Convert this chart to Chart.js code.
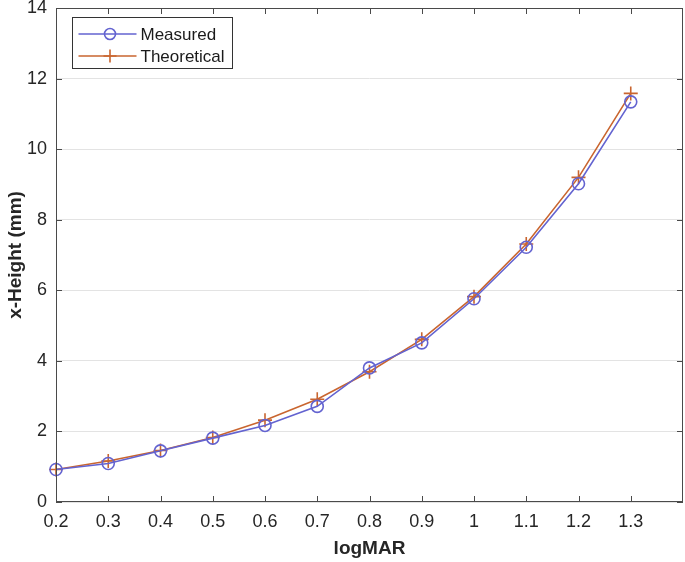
<!DOCTYPE html>
<html>
<head>
<meta charset="utf-8">
<script src="https://cdn.jsdelivr.net/npm/chart.js@4"></script>
<style>
  html, body { margin: 0; padding: 0; background: #fff; }
  #wrap { width: 685px; height: 562px; }
</style>
</head>
<body>
<div id="wrap"><canvas id="chart" width="685" height="562"></canvas></div>
<script>
// data
var logMAR = [0.2, 0.3, 0.4, 0.5, 0.6, 0.7, 0.8, 0.9, 1.0, 1.1, 1.2, 1.3];
var measured = [0.92, 1.09, 1.45, 1.81, 2.17, 2.71, 3.8, 4.51, 5.76, 7.22, 9.02, 11.34];
var theoretical = [0.92, 1.16, 1.46, 1.83, 2.32, 2.91, 3.69, 4.61, 5.82, 7.31, 9.2, 11.58];
var yTicks = [0, 2, 4, 6, 8, 10, 12, 14];

var blue = "#6363d0";
var orange = "#c9652f";
var axisColor = "#4a4a4a";

function pairs(xs, ys) {
    return xs.map(function (x, i) { return { x: x, y: ys[i] }; });
}

// ticks naar binnen + kader + legenda (matlab stijl)
var matlabBox = {
    id: "matlabBox",
    afterDraw: function (chart) {
        var ctx = chart.ctx;
        var a = chart.chartArea;
        var xs = chart.scales.x, ys = chart.scales.y;
        ctx.save();
        ctx.strokeStyle = axisColor;
        ctx.lineWidth = 1;
        ctx.strokeRect(a.left + 0.5, a.top + 0.5, a.right - a.left - 1, a.bottom - a.top - 1);
        ctx.beginPath();
        logMAR.forEach(function (v) {
            var px = Math.round(xs.getPixelForValue(v)) + 0.5;
            ctx.moveTo(px, a.bottom); ctx.lineTo(px, a.bottom - 6);
            ctx.moveTo(px, a.top); ctx.lineTo(px, a.top + 6);
        });
        yTicks.forEach(function (v) {
            var py = Math.round(ys.getPixelForValue(v)) + 0.5;
            ctx.moveTo(a.left, py); ctx.lineTo(a.left + 6, py);
            ctx.moveTo(a.right, py); ctx.lineTo(a.right - 6, py);
        });
        ctx.stroke();

        // legenda
        var lx = 72.5, ly = 17.5, lw = 160, lh = 51;
        ctx.fillStyle = "#fff";
        ctx.fillRect(lx, ly, lw, lh);
        ctx.strokeStyle = "#333";
        ctx.strokeRect(lx, ly, lw, lh);
        ctx.font = "17px 'Liberation Sans', Arial, sans-serif";
        ctx.textBaseline = "middle";
        chart.data.datasets.forEach(function (ds, i) {
            var cy = ly + 16.5 + i * 22;
            ctx.strokeStyle = ds.borderColor;
            ctx.lineWidth = 1.6;
            ctx.beginPath();
            ctx.moveTo(lx + 6, cy); ctx.lineTo(lx + 64, cy);
            ctx.stroke();
            ctx.beginPath();
            if (ds.pointStyle === "circle") {
                ctx.arc(lx + 37.5, cy, 5.5, 0, Math.PI * 2);
            } else {
                ctx.moveTo(lx + 31, cy); ctx.lineTo(lx + 44, cy);
                ctx.moveTo(lx + 37.5, cy - 6.5); ctx.lineTo(lx + 37.5, cy + 6.5);
            }
            ctx.stroke();
            ctx.fillStyle = "#1a1a1a";
            ctx.fillText(ds.label, lx + 68, cy + 1);
        });
        ctx.restore();
    }
};

var ctx = document.getElementById("chart").getContext("2d");
var chart = new Chart(ctx, {
    type: "line",
    data: {
        datasets: [
            {
                label: "Measured",
                data: pairs(logMAR, measured),
                borderColor: blue,
                backgroundColor: "rgba(0,0,0,0)",
                borderWidth: 1.6,
                pointStyle: "circle",
                pointRadius: 6,
                pointBorderWidth: 1.6,
                tension: 0
            },
            {
                label: "Theoretical",
                data: pairs(logMAR, theoretical),
                borderColor: orange,
                backgroundColor: "rgba(0,0,0,0)",
                borderWidth: 1.6,
                pointStyle: "cross",
                pointRadius: 7,
                pointBorderWidth: 1.6,
                tension: 0
            }
        ]
    },
    options: {
        responsive: false,
        animation: false,
        clip: false,
        layout: { autoPadding: false, padding: { top: 8, right: 2, left: 0, bottom: 0 } },
        plugins: { legend: { display: false }, tooltip: { enabled: false } },
        scales: {
            x: {
                type: "linear",
                min: 0.2,
                max: 1.4,
                afterBuildTicks: function (s) {
                    s.ticks = logMAR.map(function (v) { return { value: v }; });
                },
                afterFit: function (s) {
                    s.height = 60;
                    s.paddingLeft = 0;
                    s.paddingRight = 0;
                },
                ticks: {
                    color: "#262626",
                    padding: 9,
                    font: { size: 18, family: "'Liberation Sans', Arial, sans-serif" },
                    maxRotation: 0,
                    callback: function (v) { return String(Number(v.toFixed(1))); }
                },
                grid: { display: false, drawTicks: false },
                border: { display: false },
                title: {
                    display: true,
                    text: "logMAR",
                    color: "#262626",
                    padding: { top: 0, bottom: 2 },
                    font: { size: 19, weight: "bold", family: "'Liberation Sans', Arial, sans-serif" }
                }
            },
            y: {
                min: 0,
                max: 14,
                afterBuildTicks: function (s) {
                    s.ticks = yTicks.map(function (v) { return { value: v }; });
                },
                afterFit: function (s) {
                    s.width = 56;
                    s.paddingTop = 0;
                    s.paddingBottom = 0;
                },
                ticks: {
                    color: "#262626",
                    padding: 9,
                    font: { size: 18, family: "'Liberation Sans', Arial, sans-serif" }
                },
                grid: { color: "#e3e3e3", drawTicks: false, lineWidth: 1 },
                border: { display: false },
                title: {
                    display: true,
                    text: "x-Height (mm)",
                    color: "#262626",
                    padding: { top: 4, bottom: 0 },
                    font: { size: 19, weight: "bold", family: "'Liberation Sans', Arial, sans-serif" }
                }
            }
        }
    },
    plugins: [matlabBox]
});
</script>
</body>
</html>
